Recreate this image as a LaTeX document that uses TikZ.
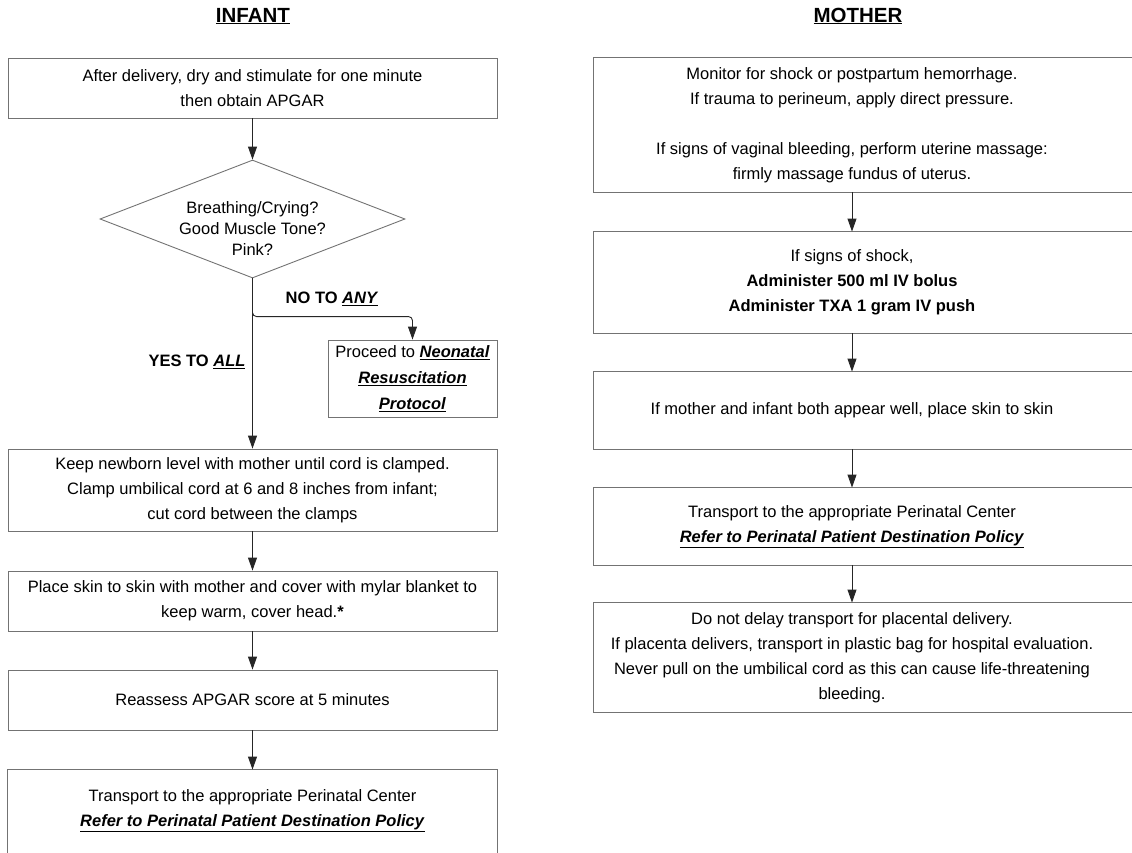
\documentclass[tikz,border=0pt]{standalone}
\usepackage{fontspec}
\setmainfont{Liberation Sans}
\usetikzlibrary{shapes.geometric,arrows.meta}

\begin{document}
\begin{tikzpicture}[x=1pt,y=-1pt,line width=0.9pt,
  every node/.style={font=\fontsize{16.5}{25}\selectfont,align=center,inner sep=0pt},
  ibox/.style={draw=black!55,minimum width=489pt},%infant column box
  mbox/.style={minimum width=516pt},%mother column, frame drawn below
  title/.style={font=\fontsize{20.5}{24}\selectfont\bfseries},
  lbl/.style={font=\fontsize{16.5}{25}\selectfont\bfseries},
  arr/.style={-{Triangle[width=9pt,length=13pt]},black!85}]
\useasboundingbox (0,0) rectangle (1132,852);

\node[title] (tinf) at (253,16) {\underline{INFANT}};
\node[title] (tmot) at (858,16) {\underline{MOTHER}};

% infant
\node[ibox,minimum height=60pt] (dry) at (252.5,88) {After delivery, dry and stimulate for one minute\\ then obtain APGAR};
\node[draw=black!55,diamond,aspect=2.6,minimum width=305pt,minimum height=118pt,
      font=\fontsize{16.5}{21}\selectfont] (check) at (252.5,219)
      {\raisebox{-16pt}[0pt][0pt]{\begin{tabular}{@{}c@{}}Breathing/Crying?\\ Good Muscle Tone?\\ Pink?\end{tabular}}};%text sits low
\node[draw=black!55,minimum width=169pt,minimum height=77pt,font=\fontsize{16.5}{26}\selectfont] (neo) at (412.5,378.5)
      {Proceed to \underline{\textbf{\textit{Neonatal}}}\\ \underline{\textbf{\textit{Resuscitation}}}\\ \underline{\textbf{\textit{Protocol}}}};
\node[lbl] (no) at (332,299) {NO TO \underline{\textit{ANY}}};
\node[lbl] (yes) at (197,362) {YES TO \underline{\textit{ALL}}};
\node[ibox,minimum height=82pt] (cord) at (252.5,490) {Keep newborn level with mother until cord is clamped.\\ Clamp umbilical cord at 6 and 8 inches from infant;\\ cut cord between the clamps};
\node[ibox,minimum height=60pt] (skin) at (252.5,601) {Place skin to skin with mother and cover with mylar blanket to\\ keep warm, cover head.\textbf{*}};
\node[ibox,minimum height=60pt] (apgar) at (252.5,700) {Reassess APGAR score at 5 minutes};
\node[minimum width=489pt,minimum height=81pt] (itrans) at (252.5,810.5) {Transport to the appropriate Perinatal Center\\ \underline{\textbf{\textit{Refer to Perinatal Patient Destination Policy}}}};
\draw[black!55] (itrans.north west) rectangle ([yshift=-10pt]itrans.south east);%runs off the page

% mother
\node[mbox,minimum height=134pt] (shock) at (852,125) {Monitor for shock or postpartum hemorrhage.\\ If trauma to perineum, apply direct pressure.\\[25pt]
      If signs of vaginal bleeding, perform uterine massage:\\ firmly massage fundus of uterus.};
\node[mbox,minimum height=101pt] (txa) at (852,282.5) {If signs of shock,\\ \textbf{Administer 500 ml IV bolus}\\ \textbf{Administer TXA 1 gram IV push}};
\node[mbox,minimum height=77pt] (well) at (852,410.5) {If mother and infant both appear well, place skin to skin};
\node[mbox,minimum height=77pt] (mtrans) at (852,526.5) {Transport to the appropriate Perinatal Center\\ \underline{\textbf{\textit{Refer to Perinatal Patient Destination Policy}}}};
\node[mbox,minimum height=109pt] (placenta) at (852,657.5) {Do not delay transport for placental delivery.\\ If placenta delivers, transport in plastic bag for hospital evaluation.\\
      Never pull on the umbilical cord as this can cause life-threatening\\ bleeding.};
\foreach \n in {shock,txa,well,mtrans,placenta}
  \draw[black!55] (\n.north west) rectangle ([xshift=40pt]\n.south east);%right side off the page

% connectors
\coordinate (split) at (252.5,311);
\draw[arr] (dry) -- (check);
\draw[arr] (check) -- (cord);
\draw[arr,rounded corners=4pt] (split) |- ([yshift=23pt]neo.north) -- (neo.north);
\foreach \a/\b in {cord/skin,skin/apgar,apgar/itrans,shock/txa,txa/well,well/mtrans,mtrans/placenta}
  \draw[arr] (\a) -- (\b);
\end{tikzpicture}
\end{document}
